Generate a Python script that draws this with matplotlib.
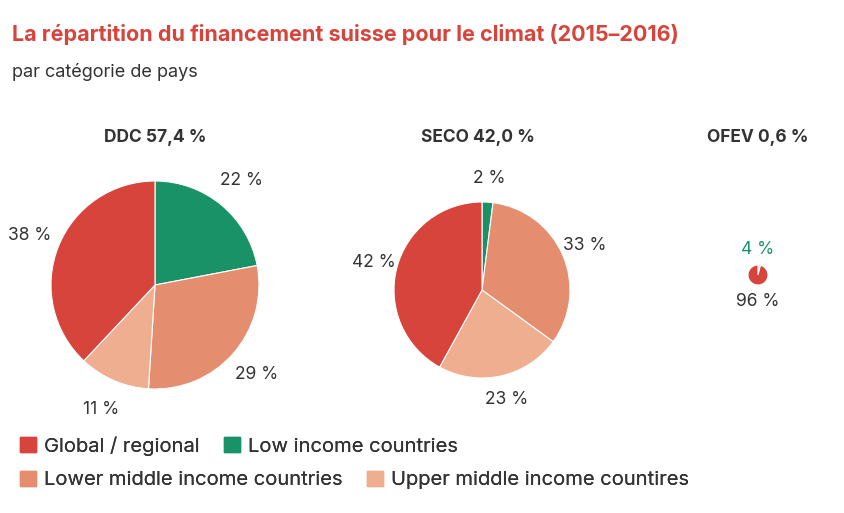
import matplotlib.pyplot as plt
from matplotlib.patches import Patch

plt.rcParams["font.family"] = "Inter"

W, H = 845, 513
categories = ["Global / regional", "Low income countries",
              "Lower middle income countries", "Upper middle income countires"]
colors = ["#d6443b", "#1a9268", "#e58e6f", "#eeae8f"]

pies = ["DDC 57,4 %", "SECO 42,0 %", "OFEV 0,6 %"]
# shares in order: global, low, lower middle, upper middle
ddc = [38, 22, 29, 11]
seco = [42, 2, 33, 23]
ofev = [96, 4, 0, 0]

fig = plt.figure(figsize=(W / 100, H / 100), dpi=100)


def px_axes(cx, cy, r):
    return fig.add_axes([(cx - r) / W, 1 - (cy + r) / H, 2 * r / W, 2 * r / H])


def draw_pie(ax, values, dist, labels=True):
    # clockwise from top: low, lower middle, upper middle, global
    order = [1, 2, 3, 0]
    vals = [values[i] for i in order]
    cols = [colors[i] for i in order]
    labs = [f"{v} %" if labels and v > 0 else "" for v in vals]
    ax.pie(vals, colors=cols, startangle=90, counterclock=False,
           labels=labs, labeldistance=dist,
           textprops=dict(fontsize=12.5, color="#333333", ha="center", va="center"),
           wedgeprops=dict(linewidth=0.8, edgecolor="white"))
    ax.set_xlim(-1, 1)
    ax.set_ylim(-1, 1)
    ax.set_aspect("equal")


ax1 = px_axes(155, 285, 104)
draw_pie(ax1, ddc, 1.3)
ax2 = px_axes(482, 290, 88)
draw_pie(ax2, seco, 1.27)
ax3 = px_axes(758, 275, 10)
draw_pie(ax3, ofev, 1.0, labels=False)

fig.text(758 / W, 1 - 250 / H, f"{ofev[1]} %", color=colors[1], fontsize=12.5,
         ha="center", va="center")
fig.text(758 / W, 1 - 301 / H, f"{ofev[0]} %", color="#333333", fontsize=12.5,
         ha="center", va="center")

for name, x in zip(pies, [155, 478, 758]):
    fig.text(x / W, 1 - 138 / H, name, fontsize=12.5, fontweight="bold",
             color="#333333", ha="center", va="center")

fig.text(12 / W, 1 - 35 / H, "La répartition du financement suisse pour le climat (2015–2016)",
         fontsize=15.5, fontweight="bold", color="#d6443b", va="center")
fig.text(12 / W, 1 - 72 / H, "par catégorie de pays", fontsize=13,
         color="#333333", va="center")

rows = [[0, 1], [2, 3]]
for row, y in zip(rows, [446, 480]):
    handles = [Patch(color=colors[i]) for i in row]
    leg = fig.legend(handles, [categories[i] for i in row], ncol=2,
                     loc="center left", bbox_to_anchor=(2 / W, 1 - y / H),
                     frameon=False, fontsize=14.5, handlelength=0.8,
                     handleheight=0.8, handletextpad=0.4, columnspacing=1.2,
                     labelcolor="#333333")
    fig.add_artist(leg)

fig.savefig("out.png", dpi=100)
